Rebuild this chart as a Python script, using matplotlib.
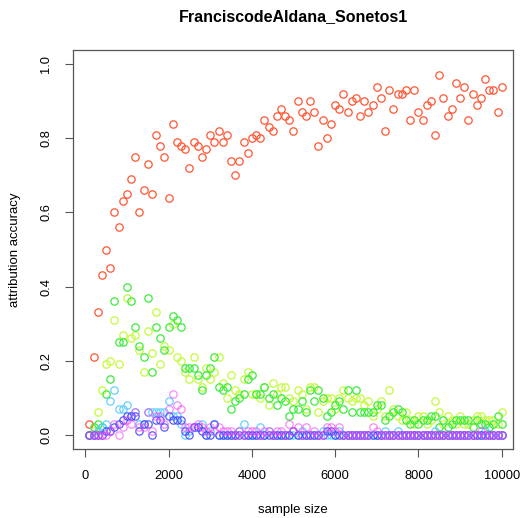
import numpy as np
import matplotlib
matplotlib.use("Agg")
import matplotlib.pyplot as plt

plt.rcParams['font.family'] = ['Liberation Sans', 'DejaVu Sans']

sample_size = list(range(100, 10001, 100))

red = [.03, .21, .33, .43, .50, .45, .60, .56, .63, .65,
       .69, .75, .60, .66, .73, .65, .81, .78, .75, .64,
       .84, .79, .78, .77, .72, .79, .78, .75, .77, .81,
       .79, .82, .79, .81, .74, .70, .74, .79, .76, .80,
       .81, .80, .85, .83, .82, .86, .88, .86, .85, .82,
       .90, .87, .86, .90, .87, .78, .85, .80, .84, .89,
       .88, .92, .87, .90, .91, .86, .90, .87, .89, .94,
       .91, .82, .93, .88, .92, .92, .93, .85, .93, .87,
       .85, .89, .90, .81, .97, .91, .86, .88, .95, .91,
       .94, .85, .92, .89, .91, .96, .93, .93, .87, .94]

yellowgreen = [.00, .01, .06, .12, .19, .20, .31, .19, .27, .37,
               .26, .27, .23, .17, .28, .22, .33, .19, .24, .23,
               .30, .21, .20, .17, .15, .21, .15, .13, .18, .15,
               .17, .21, .14, .10, .16, .12, .11, .15, .17, .11,
               .11, .10, .13, .08, .14, .11, .13, .13, .10, .09,
               .12, .11, .07, .13, .13, .06, .09, .10, .10, .07,
               .10, .12, .10, .09, .10, .10, .08, .09, .05, .07,
               .09, .05, .12, .07, .05, .04, .06, .04, .03, .05,
               .05, .03, .04, .09, .06, .03, .05, .04, .03, .05,
               .03, .03, .04, .05, .05, .04, .04, .04, .03, .06]

green = [.00, .02, .03, .02, .11, .15, .36, .25, .25, .40,
         .36, .29, .24, .21, .37, .17, .29, .26, .23, .29,
         .32, .31, .29, .18, .18, .18, .16, .12, .16, .18,
         .21, .13, .12, .13, .07, .09, .10, .11, .15, .16,
         .11, .11, .13, .10, .11, .08, .10, .09, .05, .07,
         .07, .09, .06, .12, .09, .12, .10, .05, .06, .08,
         .09, .07, .12, .06, .12, .06, .06, .06, .06, .08,
         .08, .04, .05, .06, .07, .06, .04, .03, .04, .03,
         .04, .04, .05, .05, .02, .04, .02, .03, .04, .04,
         .04, .04, .02, .04, .03, .03, .02, .03, .05, .03]

cyan = [0, 0, .01, .02, .03, .09, .12, .07, .07, .08,
        .05, .06, .03, .03, .06, .06, .06, .06, .06, .09,
        .05, .05, .03, 0, .01, .02, .02, .03, 0, .01,
        .03, 0, 0, 0, 0, 0, .01, .03, 0, 0,
        0, .02, 0, .01, 0, 0, 0, 0, 0, 0,
        0, .01, 0, 0, 0, 0, .01, 0, 0, 0,
        .01, 0, 0, 0, 0, 0, 0, 0, 0, 0,
        0, .01, 0, 0, .01, 0, 0, 0, 0, 0,
        0, 0, 0, .01, 0, 0, 0, 0, 0, 0,
        0, 0, 0, 0, .00, .01, 0, 0, 0, 0]

blue = [0, 0, 0, 0, .01, .01, .02, .03, .04, .05,
        .05, .05, .01, .03, .03, 0, .04, .04, .02, .05,
        .04, .04, .04, .01, 0, .02, .02, .01, 0, 0,
        .03, 0, 0, 0, 0, 0, 0, 0, 0, 0,
        0, 0, 0, 0, 0, 0, 0, 0, 0, .01,
        0, 0, 0, 0, 0, 0, 0, .01, .01, 0,
        0, 0, 0, 0, 0, 0, 0, 0, 0, 0,
        0, 0, 0, 0, 0, 0, 0, 0, 0, 0,
        0, 0, 0, 0, 0, 0, 0, 0, 0, 0,
        0, 0, 0, 0, 0, 0, 0, 0, 0, 0]

magenta = [0, 0, 0, 0, 0, .01, .03, 0, .02, .04,
           .03, .06, .02, .02, .06, .01, .05, .05, .03, .07,
           .11, .08, .07, .02, .02, .02, .03, .02, .01, .02,
           .01, .02, .01, .01, .01, 0, .01, 0, .01, .01,
           .01, 0, .01, .01, 0, .01, .01, 0, .03, .01,
           .02, 0, .02, 0, .01, 0, 0, .02, .02, .01,
           .02, 0, 0, 0, 0, 0, 0, 0, .02, .01,
           0, 0, 0, 0, 0, 0, 0, 0, 0, 0,
           0, 0, 0, 0, 0, 0, 0, 0, 0, 0,
           0, 0, 0, 0, .01, 0, 0, 0, 0, 0]

series = [red, yellowgreen, green, cyan, blue, magenta]
colors = ['#FF5533', '#C4FA3C', '#3CEB3C', '#55CCFF', '#4040FF', '#F040F0']
alphas = [1.0, 1.0, 1.0, 0.9, 0.85, 0.6]

x_ticks = [0, 2000, 4000, 6000, 8000, 10000]
x_tick_labels = ['0', '2000', '4000', '6000', '8000', '10000']
y_ticks = [0.0, 0.2, 0.4, 0.6, 0.8, 1.0]
y_tick_labels = ['0.0', '0.2', '0.4', '0.6', '0.8', '1.0']

fig = plt.figure(figsize=(5.27, 5.18), dpi=100)
ax = fig.add_axes([73 / 527, 1 - 449 / 518, (513 - 73) / 527, (449 - 50) / 518])

for vals, c, a in zip(series, colors, alphas):
    ax.plot(sample_size, vals, linestyle='none', marker='o', markersize=5.3,
            markerfacecolor='none', markeredgecolor=c, markeredgewidth=0.9, alpha=a)

ax.set_xlim(-294, 10270)
ax.set_ylim(-0.0386, 1.0386)
ax.set_xticks(x_ticks)
ax.set_xticklabels(x_tick_labels)
ax.set_yticks(y_ticks)
ax.set_yticklabels(y_tick_labels, rotation=90, va='center')
ax.tick_params(axis='both', length=6, width=0.8, color='#555555', labelsize=9.3, pad=9)
for s in ax.spines.values():
    s.set_color('#555555')
    s.set_linewidth(0.9)

ax.set_xlabel('sample size', fontsize=9.5, labelpad=16)
ax.set_ylabel('attribution accuracy', fontsize=9.5, labelpad=14)
ax.set_title('FranciscodeAldana_Sonetos1', fontsize=11.5, fontweight='bold', pad=21)

fig.savefig('out.png', dpi=100)
